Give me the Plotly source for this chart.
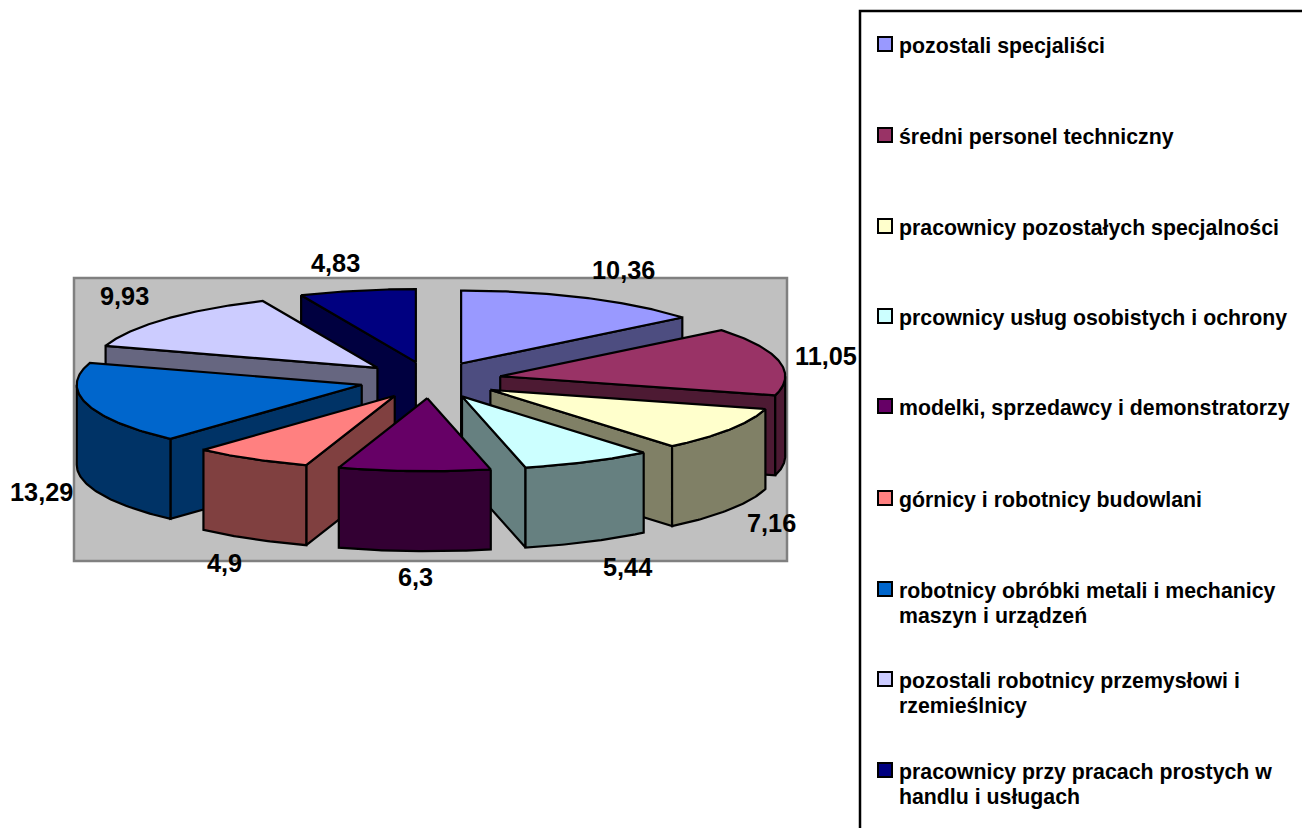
import numpy as np
import plotly.graph_objects as go

categories = [
    "pozostali specjaliści",
    "średni personel techniczny",
    "pracownicy pozostałych specjalności",
    "prcownicy usług osobistych i ochrony",
    "modelki, sprzedawcy i demonstratorzy",
    "górnicy i robotnicy budowlani",
    "robotnicy obróbki metali i mechanicy<br>maszyn i urządzeń",
    "pozostali robotnicy przemysłowi i<br>rzemieślnicy",
    "pracownicy przy pracach prostych w<br>handlu i usługach",
]
values = [10.36, 11.05, 7.16, 5.44, 6.3, 4.9, 13.29, 9.93, 4.83]
value_labels = ["10,36", "11,05", "7,16", "5,44", "6,3", "4,9", "13,29", "9,93", "4,83"]

top_colors = ["#9999FF", "#993366", "#FFFFCC", "#CCFFFF", "#660066", "#FF8080", "#0066CC", "#CCCCFF", "#000080"]
side_colors = ["#4D4D80", "#4D1A33", "#808066", "#668080", "#330033", "#804040", "#003366", "#666680", "#000040"]

# Pie geometry (pixel space of the page)
CX, CY, RX, RY, DEPTH, EXPLODE = 430.5, 380, 285, 73, 80, 0.25
PAINT_ORDER = [0, 8, 7, 1, 6, 2, 5, 3, 4]
LABEL_POS = [(623, 270), (826, 356), (771.5, 523), (627, 567), (415, 577),
             (224, 563), (41, 492), (124, 296), (335, 263)]
LEGEND_Y = [45, 136, 227, 317, 407, 499, 590, 680, 771]
LEGEND_LINE_GAP = 25
LINE = dict(color="black", width=2.2)

total = sum(values)
ends = np.cumsum(values) / total * 360
starts = np.concatenate([[0], ends[:-1]])


def pt(a, ox, oy, drop=0.0):
    r = np.radians(a)
    return ox + RX * np.sin(r), oy - RY * np.cos(r) + drop


def poly(fig, xs, ys, color, name):
    fig.add_trace(go.Scatter(
        x=list(xs), y=list(ys), mode="lines", fill="toself", fillcolor=color,
        line=LINE, name=name, hoverinfo="name", showlegend=False))


fig = go.Figure()

for i in PAINT_ORDER:
    a0, a1 = starts[i], ends[i]
    mid = np.radians((a0 + a1) / 2)
    ox = CX + EXPLODE * RX * np.sin(mid)
    oy = CY - EXPLODE * RY * np.cos(mid)
    name = categories[i].replace("<br>", " ")

    # visible cut faces
    for face, normal in ((a1, a1 + 90), (a0, a0 - 90)):
        if 90 < (normal % 360) < 270:
            fx, fy = pt(face, ox, oy)
            poly(fig, [ox, fx, fx, ox, ox], [oy, fy, fy + DEPTH, oy + DEPTH, oy], side_colors[i], name)

    # visible outer wall
    w0, w1 = max(a0, 90), min(a1, 270)
    if w1 > w0:
        t = np.linspace(w0, w1, 50)
        x, y = pt(t, ox, oy)
        poly(fig, np.r_[x, x[::-1], x[0]], np.r_[y, y[::-1] + DEPTH, y[0]], side_colors[i], name)

    # top face
    t = np.linspace(a0, a1, 80)
    x, y = pt(t, ox, oy)
    poly(fig, np.r_[ox, x, ox], np.r_[oy, y, oy], top_colors[i], name)

# Legend swatches
fig.add_trace(go.Scatter(
    x=[885] * len(categories), y=[y - 1 for y in LEGEND_Y],
    mode="markers", showlegend=False, hoverinfo="skip",
    marker=dict(symbol="square", size=14, color=top_colors, line=dict(color="black", width=2)),
))

annotations = []
for (lx, ly), text in zip(LABEL_POS, value_labels):
    annotations.append(dict(x=lx, y=ly, text=f"<b>{text}</b>", showarrow=False,
                            font=dict(size=25.3, family="Liberation Sans", color="black")))
for y, text in zip(LEGEND_Y, categories):
    for k, part in enumerate(text.split("<br>")):
        annotations.append(dict(x=897, y=y + 0.5 + k * LEGEND_LINE_GAP, text=f"<b>{part}</b>", showarrow=False,
                                xanchor="left", align="left",
                                font=dict(size=21.3, family="Liberation Sans", color="black")))

fig.update_layout(
    width=1302, height=828, margin=dict(l=0, r=0, t=0, b=0),
    paper_bgcolor="white", plot_bgcolor="white", showlegend=False,
    xaxis=dict(range=[0, 1302], visible=False, fixedrange=True),
    yaxis=dict(range=[828, 0], visible=False, fixedrange=True),
    annotations=annotations,
    shapes=[
        dict(type="rect", x0=74, y0=278, x1=787, y1=561, fillcolor="#C0C0C0",
             line=dict(color="#808080", width=2.5), layer="below"),
        dict(type="rect", x0=860, y0=11, x1=1310, y1=840, fillcolor="white",
             line=dict(color="black", width=2.5), layer="below"),
    ],
)

fig.write_html("out.html", config={"displayModeBar": False},
               post_script="document.body.style.margin='0';document.body.style.overflow='hidden';")
